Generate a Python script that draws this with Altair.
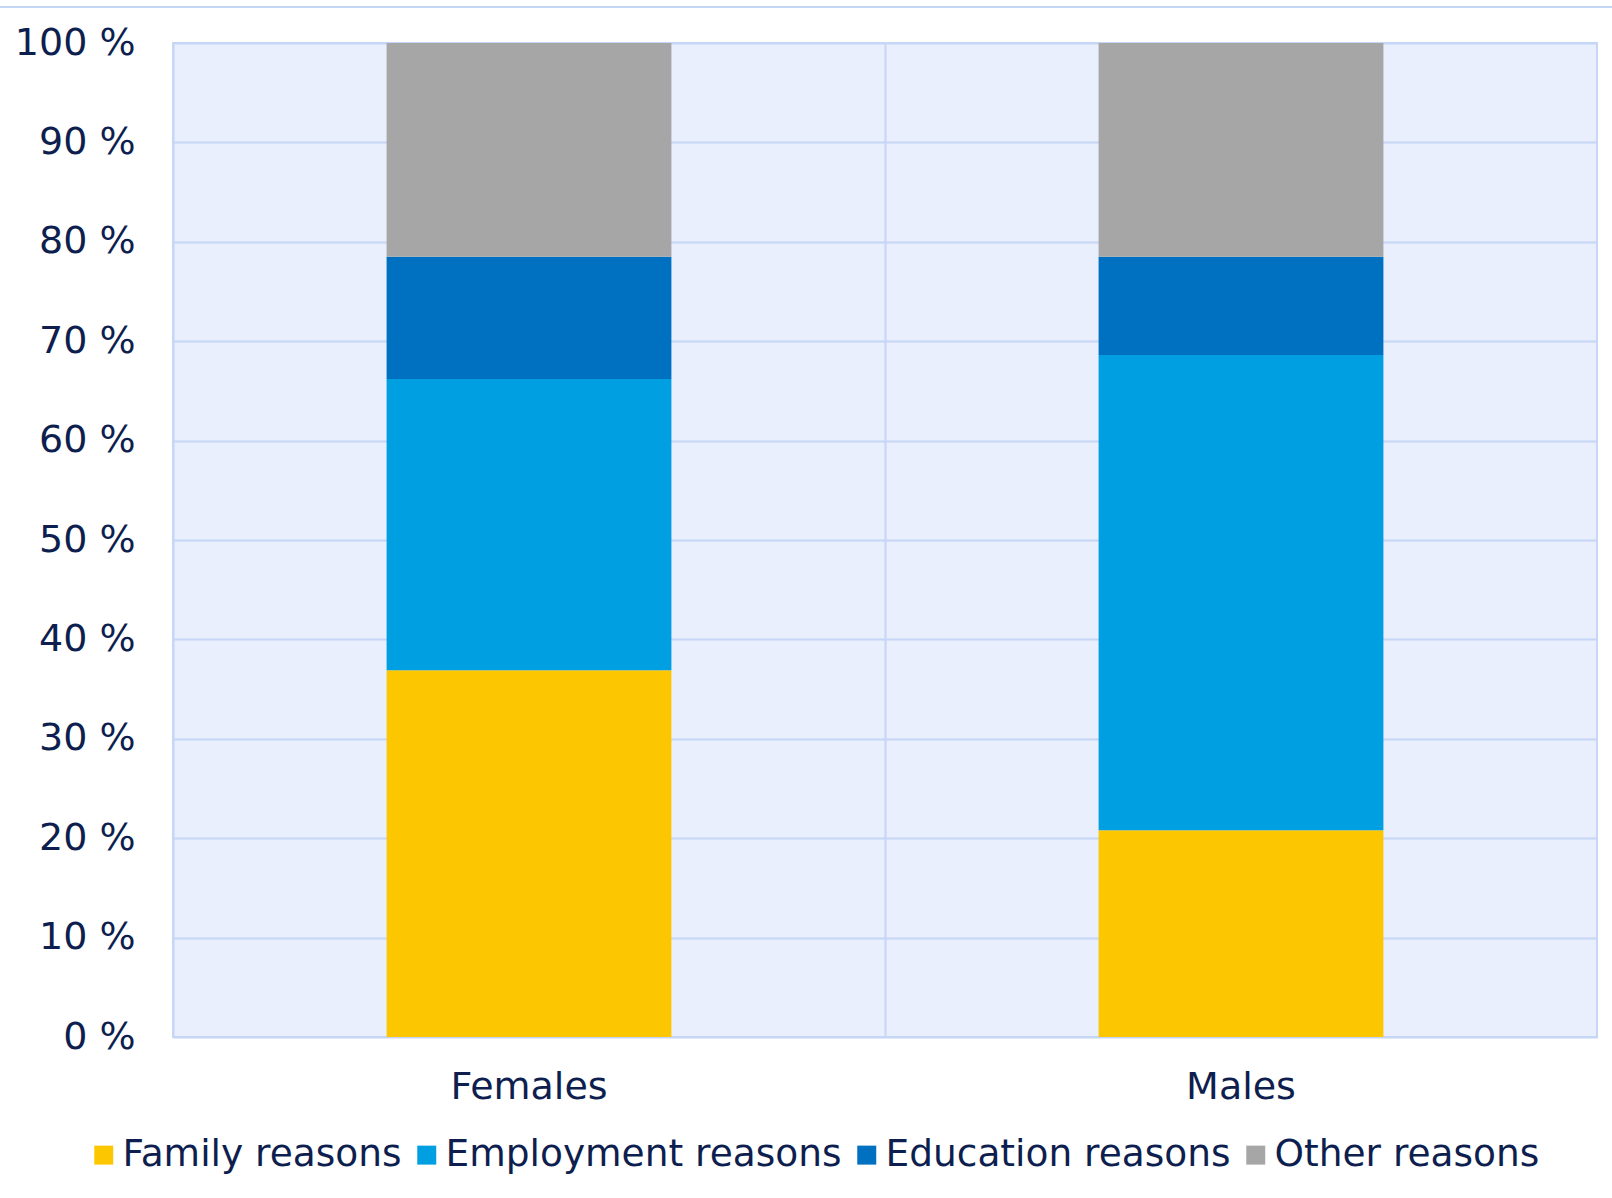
import altair as alt
import pandas as pd

sexes = ["Females", "Males"]
reasons = ["Family reasons", "Employment reasons", "Education reasons", "Other reasons"]
females = [36.9, 29.3, 12.3, 21.5]
males = [20.8, 47.8, 9.9, 21.5]
colors = ["#FCC700", "#009FE1", "#0070C0", "#A6A6A6"]

rows = []
for s, vals in zip(sexes, [females, males]):
    for i, (r, v) in enumerate(zip(reasons, vals)):
        rows.append({"sex": s, "reason": r, "value": v, "order": i})
df = pd.DataFrame(rows)

TEXT = "#0E1F4F"
GRID = "#C6D6F6"
FONT = "DejaVu Sans"
FS = 38

bars = alt.Chart(df).mark_bar(width=alt.RelativeBandSize(0.4)).encode(
    x=alt.X("sex:N", sort=sexes, title=None,
            scale=alt.Scale(paddingInner=0, paddingOuter=0),
            axis=alt.Axis(labelAngle=0, labelFontSize=FS, labelColor=TEXT, labelFont=FONT,
                          ticks=False, domain=False, labelPadding=31,
                          grid=True, bandPosition=0, gridColor=GRID, gridWidth=2)),
    y=alt.Y("value:Q", stack="zero", title=None,
            scale=alt.Scale(domain=[0, 100], nice=False),
            axis=alt.Axis(values=list(range(0, 101, 10)), labelExpr="datum.value + ' %'",
                          labelFontSize=FS, labelColor=TEXT, labelFont=FONT,
                          ticks=False, domain=False, labelPadding=38,
                          gridColor=GRID, gridWidth=2)),
    color=alt.Color("reason:N", sort=reasons,
                    scale=alt.Scale(domain=reasons, range=colors),
                    legend=alt.Legend(title=None, orient="none", legendX=-88, legendY=1093,
                                      direction="horizontal", columns=4,
                                      symbolType="square", symbolSize=360, symbolStrokeWidth=0,
                                      labelFontSize=37.5, labelColor=TEXT, labelFont=FONT,
                                      labelLimit=600, columnPadding=6, labelOffset=0,
                                      padding=0)),
    order=alt.Order("order:Q"),
)

topline = alt.Chart(df).mark_rule(color=GRID, strokeWidth=2).encode(
    x=alt.value(-173), x2=alt.value(1439), y=alt.value(-36)
)

chart = alt.layer(bars, topline).properties(
    width=1424, height=994,
    autosize=alt.AutoSizeParams(type="none"),
    padding={"left": 173, "top": 43, "right": 15, "bottom": 161},
).configure_view(
    fill="#E9EFFC", stroke=GRID, strokeWidth=2
)

chart.save("out.html", embed_options={"renderer": "svg", "actions": False})
